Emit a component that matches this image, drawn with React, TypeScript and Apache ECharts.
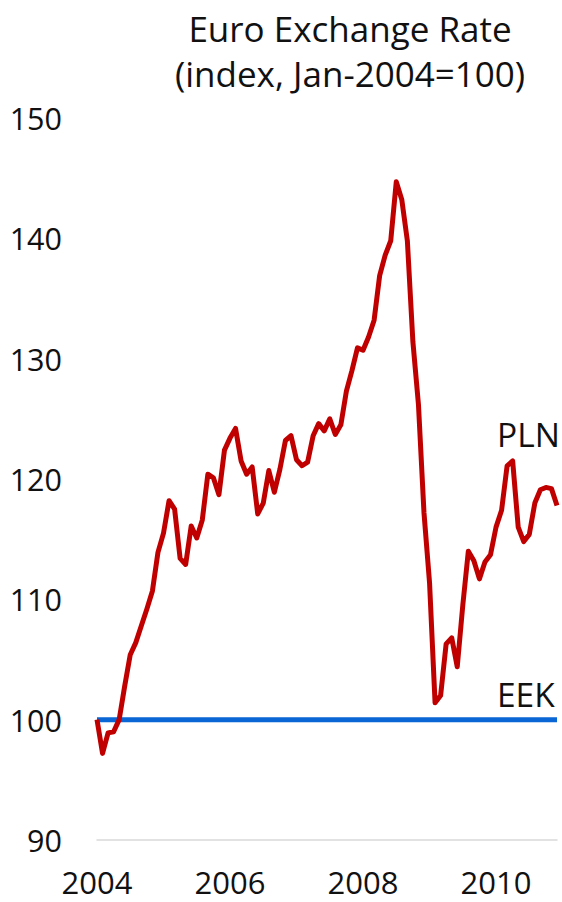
import React, { useEffect, useRef } from "react";
import * as echarts from "echarts";

const startYear = 2004;
const monthCount = 84;
const months: string[] = Array.from({ length: monthCount }, (_, i) => {
  const y = startYear + Math.floor(i / 12);
  const m = (i % 12) + 1;
  return `${y}-${m < 10 ? "0" + m : m}`;
});

const plnValues = [
  100.0, 97.2, 98.9, 99.0, 100.0, 102.8, 105.4, 106.4, 107.8, 109.2, 110.7, 113.9,
  115.5, 118.2, 117.5, 113.4, 112.9, 116.1, 115.1, 116.6, 120.4, 120.1, 118.7, 122.4,
  123.4, 124.2, 121.5, 120.4, 121.0, 117.1, 118.0, 120.7, 118.9, 120.8, 123.2, 123.6,
  121.6, 121.1, 121.4, 123.6, 124.6, 124.0, 125.0, 123.7, 124.5, 127.3, 129.0, 130.9,
  130.7, 131.8, 133.2, 136.9, 138.6, 139.8, 144.7, 143.2, 139.8, 131.4, 126.2, 117.2,
  111.4, 101.4, 102.0, 106.3, 106.8, 104.4, 109.5, 114.0, 113.2, 111.7, 113.1, 113.7,
  116.0, 117.4, 121.1, 121.5, 116.0, 114.8, 115.4, 118.0, 119.1, 119.3, 119.2, 117.8,
];

const eekValues = plnValues.map(() => 100);

const yTicks = { min: 90, max: 150, interval: 10 };
const titleLines = ["Euro Exchange Rate", "(index, Jan-2004=100)"];
const seriesNames = ["PLN", "EEK"];

const FONT = "'Open Sans', 'Noto Sans', sans-serif";

export default function App() {
  const ref = useRef<HTMLDivElement>(null);
  useEffect(() => {
    if (!ref.current) return;
    const chart = echarts.init(ref.current, undefined, { renderer: "svg" });
    chart.setOption({
      animation: false,
      backgroundColor: "#ffffff",
      title: {
        text: titleLines.join("\n"),
        left: 345,
        top: 1,
        textAlign: "center",
        textStyle: {
          fontFamily: FONT,
          fontSize: 35,
          fontWeight: "normal",
          color: "#111111",
          lineHeight: 45,
        },
      },
      grid: { left: 97, right: 5, top: 118, bottom: 62, containLabel: false },
      xAxis: {
        type: "category",
        data: months,
        boundaryGap: false,
        axisLine: { show: true, lineStyle: { color: "#d9d9d9", width: 1.5 } },
        axisTick: { show: false },
        axisLabel: {
          interval: 23,
          formatter: (v: string) => v.slice(0, 4),
          fontFamily: FONT,
          fontSize: 31,
          color: "#111111",
          margin: 26,
        },
        splitLine: { show: false },
      },
      yAxis: {
        type: "value",
        min: yTicks.min,
        max: yTicks.max,
        interval: yTicks.interval,
        axisLine: { show: false },
        axisTick: { show: false },
        splitLine: { show: false },
        axisLabel: {
          fontFamily: FONT,
          fontSize: 30.5,
          color: "#111111",
          margin: 35,
        },
      },
      series: [
        {
          name: seriesNames[1],
          type: "line",
          data: eekValues,
          symbol: "none",
          lineStyle: { color: "#0A66D4", width: 5 },
          z: 2,
        },
        {
          name: seriesNames[0],
          type: "line",
          data: plnValues,
          symbol: "none",
          lineStyle: { color: "#C00000", width: 5, join: "round" },
          z: 3,
        },
      ],
      graphic: [
        {
          type: "text",
          x: 497,
          y: 434,
          style: {
            text: seriesNames[0],
            font: `33.5px ${FONT}`,
            fill: "#111111",
            verticalAlign: "middle",
          },
        },
        {
          type: "text",
          x: 497,
          y: 694,
          style: {
            text: seriesNames[1],
            font: `33.5px ${FONT}`,
            fill: "#111111",
            verticalAlign: "middle",
          },
        },
      ],
    });
    return () => chart.dispose();
  }, []);
  return (
    <div
      ref={ref}
      style={{ position: "fixed", left: 0, top: 0, width: 562, height: 902 }}
    />
  );
}
